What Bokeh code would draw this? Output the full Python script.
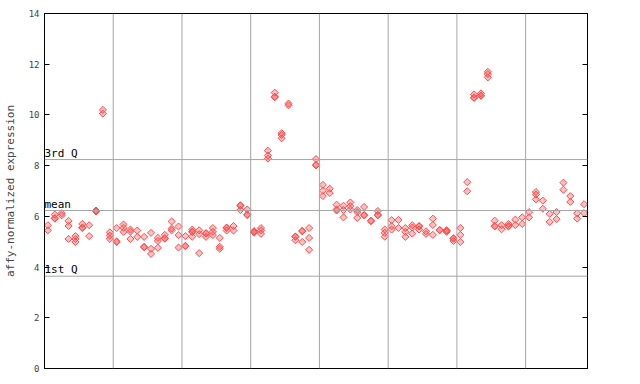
from bokeh.plotting import figure
from bokeh.models import Span, Label, LinearAxis, FixedTicker, ColumnDataSource, Range1d
from bokeh.embed import file_html
from bokeh.resources import INLINE

# per-sample replicate values (sample 1..79)
sample_values = [
    [5.65, 5.45], [6.07, 5.91, 5.93], [6.12, 6.04], [5.82, 5.62, 5.11], [5.22, 5.11, 4.99],
    [5.70, 5.56, 5.54], [5.65, 5.22], [6.23, 6.19, 6.21], [10.20, 10.05], [5.37, 5.24, 5.11],
    [5.54, 5.01, 4.99], [5.68, 5.55, 5.39], [5.48, 5.40, 5.11], [5.44, 5.19], [5.19, 4.80, 4.78],
    [5.35, 4.72, 4.52], [5.15, 5.03, 4.76], [5.27, 5.14, 5.12], [5.80, 5.52, 5.45], [5.60, 5.26, 4.77],
    [5.22, 4.84, 4.82], [5.48, 5.40, 5.38, 5.20], [5.45, 5.30, 4.55], [5.34, 5.32, 5.19], [5.54, 5.39, 5.26],
    [5.15, 4.80, 4.72], [5.56, 5.54, 5.44], [5.62, 5.44], [6.44, 6.42, 6.25], [6.27, 6.07, 6.05],
    [5.42, 5.39, 5.36], [5.54, 5.45, 5.31], [8.59, 8.40, 8.28], [10.88, 10.70, 10.72], [9.28, 9.21, 9.08],
    [10.45, 10.38], [5.19, 5.21, 5.06], [5.41, 5.43, 4.99], [5.54, 5.15, 4.68], [8.26, 8.01, 8.03],
    [7.24, 7.01, 6.80], [7.09, 6.92], [6.46, 6.27, 6.23], [6.42, 6.25, 5.96], [6.55, 6.40, 6.27],
    [6.25, 6.17, 5.94], [6.37, 6.04, 6.06], [5.81, 5.83], [6.21, 6.04, 6.06], [5.48, 5.35, 5.20],
    [5.85, 5.61, 5.48], [5.86, 5.54], [5.54, 5.39, 5.19], [5.65, 5.56, 5.32], [5.60, 5.62, 5.48],
    [5.41, 5.31], [5.91, 5.66, 5.27], [5.45, 5.47], [5.45, 5.43, 5.39], [5.14, 5.12, 5.03],
    [5.54, 5.27, 4.99], [7.35, 6.99], [10.81, 10.67, 10.69], [10.85, 10.75, 10.77], [11.70, 11.61, 11.48],
    [5.83, 5.60, 5.62], [5.65, 5.49], [5.70, 5.60, 5.62], [5.87, 5.66], [5.96, 5.70],
    [6.17, 5.96], [6.96, 6.86, 6.67], [6.62, 6.30], [6.10, 5.78], [6.17, 5.89],
    [7.33, 7.05], [6.80, 6.57], [6.12, 5.91], [6.48, 6.13],
]
y_ticks = [0, 2, 4, 6, 8, 10, 12, 14]
group_bounds = [10.5, 20.5, 30.5, 40.5, 50.5, 60.5, 70.5]
q1_value = 3.64
mean_value = 6.23
q3_value = 8.24
stat_labels = ["1st Q", "mean", "3rd Q"]

xs, ys = [], []
for i, vals in enumerate(sample_values, start=1):
    for v in vals:
        xs.append(i)
        ys.append(v)
src = ColumnDataSource(dict(x=xs, y=ys))

n = len(sample_values)
p = figure(width=624, height=376, output_backend="svg", toolbar_location=None,
           x_range=Range1d(0.5, n + 0.5), y_range=Range1d(0, 14),
           min_border_left=0, min_border_right=37, min_border_top=13, min_border_bottom=8,
           y_axis_location=None, x_axis_location=None)
p.xgrid.visible = False
p.ygrid.visible = False
p.outline_line_color = "black"
p.outline_line_width = 1
p.background_fill_color = "white"
p.border_fill_color = "white"

font = "DejaVu Sans Mono"
left = LinearAxis(ticker=FixedTicker(ticks=y_ticks), axis_label="affy-normalized expression")
left.major_tick_in = 5
left.major_tick_out = 0
left.minor_tick_line_color = None
left.major_label_text_font = font
left.major_label_text_font_size = "9px"
left.axis_label_text_font = font
left.axis_label_text_font_size = "11px"
left.axis_label_text_font_style = "normal"
left.axis_label_standoff = 9
left.major_label_standoff = 5
p.add_layout(left, "left")

right = LinearAxis(ticker=FixedTicker(ticks=y_ticks))
right.major_tick_in = 5
right.major_tick_out = 0
right.minor_tick_line_color = None
right.major_label_text_font_size = "0px"
right.major_label_text_color = None
p.add_layout(right, "right")

grid_color = "#a6a6a6"
for gb in group_bounds:
    p.add_layout(Span(location=gb, dimension="height", line_color=grid_color, line_width=1))
for val, lab in zip([q1_value, mean_value, q3_value], stat_labels):
    p.add_layout(Span(location=val, dimension="width", line_color=grid_color, line_width=1))
    p.add_layout(Label(x=0.5, y=val, text=lab, text_font=font, text_font_size="11px",
                       text_color="black", y_offset=0, x_offset=0))

p.scatter("x", "y", source=src, marker="square", angle=0.785398, size=5,
          fill_color="#ff4d4d", fill_alpha=0.35, line_color="#ff4d4d", line_width=1)

open("out.html", "w").write(file_html(p, INLINE))
